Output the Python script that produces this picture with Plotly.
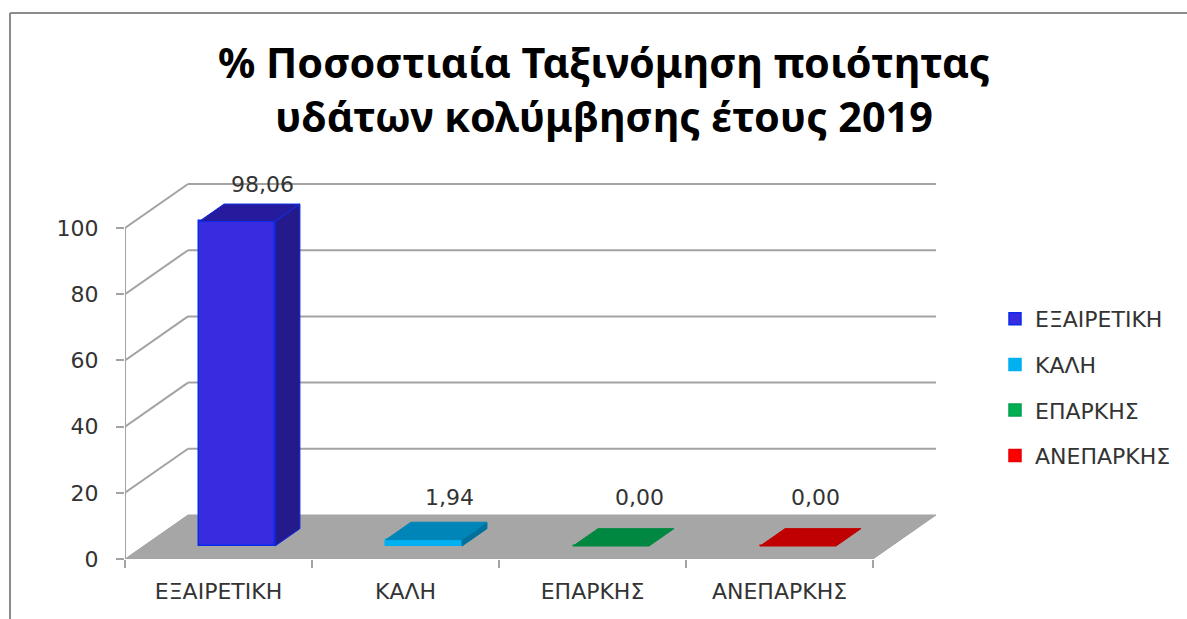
import plotly.graph_objects as go

categories = ["ΕΞΑΙΡΕΤΙΚΗ", "ΚΑΛΗ", "ΕΠΑΡΚΗΣ", "ΑΝΕΠΑΡΚΗΣ"]
values = [98.06, 1.94, 0.00, 0.00]
value_labels = ["98,06", "1,94", "0,00", "0,00"]
title_lines = ["% Ποσοστιαία Ταξινόμηση ποιότητας", "υδάτων κολύμβησης έτους 2019"]
y_ticks = [0, 20, 40, 60, 80, 100]

front_colors = ["#392ce0", "#00b0f0", "#00b050", "#ff0000"]
edge_colors = ["#0a2bea", "#00b0f0", "#00a050", "#e80000"]
top_colors = ["#261b9c", "#0085b8", "#008840", "#c00000"]
side_colors = ["#241a8c", "#00709c", "#007035", "#a00000"]

W, H = 1187, 619
PX_L, PX_B = 125.0, 559.0
CAT_PX, UNIT_PX = 187.0, 3.31
PLOT_R, PLOT_T = 945.0, 170.0
DEPTH_DX, DEPTH_DY = 63.0 / CAT_PX, 44.0 / UNIT_PX
BAR_W, D0, D1 = 0.406, 0.295, 0.69
GREY = "#a3a3a3"
FONT = "DejaVu Sans"
TEXT_SIZE = 22


def proj(x, y, d):
    return x + d * DEPTH_DX, y + d * DEPTH_DY


def paper_x(px):
    return (px - PX_L) / (PLOT_R - PX_L)


def paper_y(px):
    return (PX_B - px) / (PX_B - PLOT_T)


def poly(points, fill, line):
    xs = [p[0] for p in points] + [points[0][0]]
    ys = [p[1] for p in points] + [points[0][1]]
    return go.Scatter(x=xs, y=ys, mode="lines", fill="toself", fillcolor=fill,
                      line=dict(color=line, width=1), showlegend=False, hoverinfo="skip")


fig = go.Figure()
n = len(categories)
shapes = []


def seg(x0, y0, x1, y1, width=2):
    shapes.append(dict(type="line", xref="x", yref="y", x0=x0, y0=y0, x1=x1, y1=y1,
                       layer="below", line=dict(color=GREY, width=width)))


floor = [proj(0, 0, 0), proj(n, 0, 0), proj(n, 0, 1), proj(0, 0, 1)]
shapes.append(dict(type="path", xref="x", yref="y", layer="below", fillcolor="#a6a6a6",
                   line=dict(color=GREY, width=1),
                   path="M" + " L".join(f"{a},{b}" for a, b in floor) + " Z"))
for t in y_ticks[1:]:
    bx, by = proj(0, t, 1)
    ex, ey = proj(n, t, 1)
    seg(0, t, bx, by)
    seg(bx, by, ex, ey)
seg(0, 0, 0, y_ticks[-1])
seg(0, 0, n, 0)

for i, (cat, v) in enumerate(zip(categories, values)):
    left = i + 0.5 - BAR_W / 2
    right = i + 0.5 + BAR_W / 2
    fx, fy = proj(i + 0.5, 0, D0)
    fig.add_trace(go.Bar(x=[fx], y=[v], base=[fy], width=[BAR_W], name=cat,
                         legendgroup=cat,
                         marker=dict(color=front_colors[i], line=dict(color=edge_colors[i], width=1.5))))
    a = proj(left, v, D0)
    b = proj(right, v, D0)
    c = proj(right, v, D1)
    d = proj(left, v, D1)
    if v > 0:
        e = proj(right, 0, D0)
        g = proj(right, 0, D1)
        fig.add_trace(poly([b, e, g, c], side_colors[i], edge_colors[i] if i == 0 else side_colors[i]))
    fig.add_trace(poly([a, b, c, d], top_colors[i], edge_colors[i] if i == 0 else top_colors[i]))

shifts = [(1, 20), (1, 25), (4, 31), (-7, 31)]
annotations = []
for i, v in enumerate(values):
    x, y = proj(i + 0.5, v, D1)
    annotations.append(dict(x=x, y=y, xref="x", yref="y", text=value_labels[i], showarrow=False,
                            xshift=shifts[i][0], yshift=shifts[i][1],
                            font=dict(family=FONT, size=TEXT_SIZE, color="#333333")))

frame = [dict(type="line", xref="paper", yref="paper", x0=paper_x(10), x1=paper_x(10),
              y0=paper_y(13), y1=paper_y(H + 5), line=dict(color="#8c8c8c", width=2)),
         dict(type="line", xref="paper", yref="paper", x0=paper_x(10), x1=paper_x(W + 5),
              y0=paper_y(13), y1=paper_y(13), line=dict(color="#8c8c8c", width=2))]

fig.update_layout(
    width=W, height=H, paper_bgcolor="white", plot_bgcolor="white",
    margin=dict(l=PX_L, r=W - PLOT_R, t=PLOT_T, b=H - PX_B, autoexpand=False),
    bargap=0, barmode="overlay",
    title=dict(text="<br>".join(title_lines), x=604 / W, xanchor="center", y=1 - 78 / H, yanchor="top",
               font=dict(family="Noto Sans", size=41.4, color="#000000", weight="bold")),
    xaxis=dict(range=[0, (PLOT_R - PX_L) / CAT_PX], tickmode="array",
               tickvals=[i + 0.5 for i in range(n)], ticktext=categories,
               ticks="", showgrid=False, zeroline=False, showline=False, ticklabelstandoff=17,
               tickfont=dict(family=FONT, size=TEXT_SIZE, color="#333333"),
               minor=dict(tickmode="array", tickvals=list(range(n + 1)), ticks="outside",
                          ticklen=8, tickcolor=GREY, tickwidth=2, showgrid=False)),
    yaxis=dict(range=[0, (PX_B - PLOT_T) / UNIT_PX], tickmode="array", tickvals=y_ticks,
               ticks="outside", ticklen=8, tickcolor=GREY, tickwidth=2, showgrid=False,
               zeroline=False, showline=False, ticklabelstandoff=13,
               tickfont=dict(family=FONT, size=TEXT_SIZE, color="#333333")),
    legend=dict(x=paper_x(995), xanchor="left", y=paper_y(298), yanchor="top",
                font=dict(family=FONT, size=TEXT_SIZE, color="#333333"), tracegroupgap=14,
                bgcolor="rgba(0,0,0,0)"),
    shapes=shapes + frame, annotations=annotations,
)

fig.write_html("out.html", config={"displayModeBar": False},
               post_script="document.body.style.margin='0';")
